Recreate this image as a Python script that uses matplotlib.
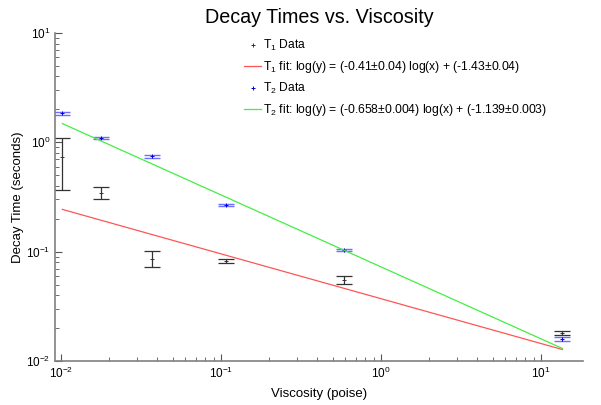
import numpy as np
import matplotlib.pyplot as plt

plt.rcParams['font.family'] = ['Liberation Sans', 'DejaVu Sans']
plt.rcParams['mathtext.fontset'] = 'custom'
plt.rcParams['mathtext.rm'] = 'Liberation Sans'
plt.rcParams['mathtext.it'] = 'Liberation Sans'
plt.rcParams['mathtext.default'] = 'regular'

# viscosity (poise)
viscosity = [0.0102, 0.0177, 0.0372, 0.107, 0.59, 13.6]

# T1 data with asymmetric errors (lower, upper bounds)
t1 = [0.73, 0.346, 0.085, 0.0817, 0.0553, 0.0179]
t1_low = [0.37, 0.303, 0.0723, 0.078, 0.0508, 0.01715]
t1_high = [1.09, 0.387, 0.1006, 0.086, 0.0598, 0.01866]

# T2 data
t2 = [1.84, 1.09, 0.745, 0.267, 0.1035, 0.01577]
t2_low = [1.78, 1.065, 0.723, 0.262, 0.1015, 0.0151]
t2_high = [1.90, 1.11, 0.765, 0.272, 0.1055, 0.01644]

# fit params: log(y) = a log(x) + b
t1_fit = (-0.41, -1.43)
t2_fit = (-0.658, -1.139)

fig = plt.figure(figsize=(6.01, 4.05), dpi=100)
ax = fig.add_axes([0.0915, 0.1086, 0.8785, 0.81])

x = np.array(viscosity)
gray = '#808080'

ax.errorbar(x, t1, yerr=[np.array(t1) - t1_low, np.array(t1_high) - t1],
            fmt='none', ecolor='#333333', elinewidth=0.9, capsize=5.8, capthick=0.9)
ax.plot(x, t1, '+', color='#333333', ms=3, mew=0.7)
ax.errorbar(x, t2, yerr=[np.array(t2) - t2_low, np.array(t2_high) - t2],
            fmt='none', ecolor='#5555ff', elinewidth=0.9, capsize=5.8, capthick=1.0, alpha=0.85)
ax.plot(x, t2, '+', color='#0000dd', ms=3, mew=0.7)

xf = np.array([x.min(), x.max()])
h1, = ax.plot([], [], '+', color='#333333', ms=3, mew=0.7, label='T$_1$ Data')
h2, = ax.plot(xf, 10 ** (t1_fit[0] * np.log10(xf) + t1_fit[1]), color='#ff5555', lw=0.9,
              label='T$_1$ fit: log(y) = (-0.41$\\pm$0.04) log(x) + (-1.43$\\pm$0.04)')
h3, = ax.plot([], [], '+', color='#0000dd', ms=3, mew=0.7, label='T$_2$ Data')
h4, = ax.plot(xf, 10 ** (t2_fit[0] * np.log10(xf) + t2_fit[1]), color='#44ee44', lw=0.9,
              label='T$_2$ fit: log(y) = (-0.658$\\pm$0.004) log(x) + (-1.139$\\pm$0.003)')

ax.set_xscale('log')
ax.set_yscale('log')
ax.set_xlim(10 ** -2.0375, 10 ** 1.2625)
ax.set_ylim(1e-2, 1e1)

for s in ['top', 'right']:
    ax.spines[s].set_visible(False)
for s in ['left', 'bottom']:
    ax.spines[s].set_color(gray)
    ax.spines[s].set_linewidth(1.2)
ax.tick_params(which='both', direction='in', color='#555555', labelsize=8.5)
ax.tick_params(which='major', length=5)
ax.tick_params(which='minor', length=3)

ax.set_title('Decay Times vs. Viscosity', fontsize=14.2, pad=7)
ax.set_xlabel('Viscosity (poise)', fontsize=9.5, labelpad=5)
ax.set_ylabel('Decay Time (seconds)', fontsize=9.5, labelpad=1)

ax.legend(handles=[h1, h2, h3, h4], loc='upper left', bbox_to_anchor=(0.338, 1.018),
          frameon=False, fontsize=8.7, labelspacing=0.5, handlelength=1.4, handletextpad=0.15)

fig.savefig('out.png', dpi=100)
